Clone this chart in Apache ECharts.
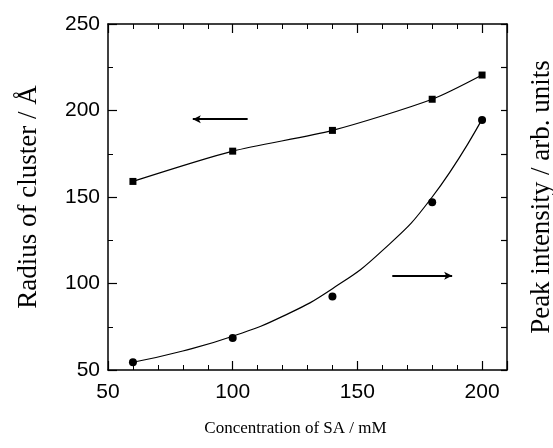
<!DOCTYPE html>
<html>
<head>
<meta charset="utf-8">
<script src="https://cdn.jsdelivr.net/npm/echarts@6/dist/echarts.min.js"></script>
<style>
  html, body { margin: 0; padding: 0; background: #fff; }
  #chart { width: 553px; height: 448px; }
</style>
</head>
<body>
<div id="chart"></div>
<script>
    'use strict';

    // concentration of SA (mM)
    var concentrations = [60, 100, 140, 180, 200];
    // radius of cluster (squares, left axis)
    var radius = [159, 176.5, 188.5, 206.5, 220.5];
    // peak intensity (circles, arb. units on the same scale)
    var intensity = [54.5, 68.5, 92.5, 147, 194.5];
    // fitted curve through the intensity points
    var fitX = [60, 80, 100, 120, 140, 160, 180, 200];
    var fitY = [54.5, 61, 69.5, 81, 97, 119, 150, 195];
    // the two arrows telling which axis a curve belongs to: [fromX, toX, y]
    var arrowLeft = [106, 84, 195];
    var arrowRight = [164, 188, 104.5];

    var xTicks = [50, 100, 150, 200];
    var yTicks = [50, 100, 150, 200, 250];

    function pairs(xs, ys) {
        return xs.map(function (x, i) { return [x, ys[i]]; });
    }

    function arrow(a) {
        return [{ coord: [a[0], a[2]] }, { coord: [a[1], a[2]] }];
    }

    var black = '#000';
    var tickFont = { color: black, fontFamily: 'Liberation Sans', fontSize: 21 };
    var titleFont = { color: black, fontFamily: 'Liberation Serif' };

    var chart = echarts.init(document.getElementById('chart'));

    chart.setOption({
        animation: false,
        grid: { left: 108, right: 46, top: 24, bottom: 78, outerBoundsMode: 'none', containLabel: false },
        xAxis: [{
            type: 'value',
            min: xTicks[0],
            max: 210,
            interval: 50,
            name: 'Concentration of SA / mM',
            nameLocation: 'middle',
            nameGap: 50,
            nameTextStyle: Object.assign({ fontSize: 17, padding: [0, 24, 0, 0] }, titleFont),
            axisLine: { lineStyle: { color: black, width: 1.5 } },
            axisTick: { inside: true, length: 9, lineStyle: { color: black, width: 1.2 } },
            minorTick: { show: true, splitNumber: 5, length: 5, lineStyle: { color: black, width: 1 } },
            axisLabel: Object.assign({ margin: 12, showMaxLabel: false }, tickFont),
            splitLine: { show: false }
        }, {
            type: 'value',
            position: 'top',
            min: xTicks[0],
            max: 210,
            interval: 50,
            axisLine: { lineStyle: { color: black, width: 1.5 } },
            axisTick: { inside: true, length: 9, lineStyle: { color: black, width: 1.2 } },
            minorTick: { show: true, splitNumber: 5, length: 5, lineStyle: { color: black, width: 1 } },
            axisLabel: { show: false },
            splitLine: { show: false }
        }],
        yAxis: [{
            type: 'value',
            min: yTicks[0],
            max: yTicks[yTicks.length - 1],
            interval: 50,
            name: 'Radius of cluster / Å',
            nameLocation: 'middle',
            nameGap: 66,
            nameRotate: 90,
            nameTextStyle: Object.assign({ fontSize: 27 }, titleFont),
            axisLine: { lineStyle: { color: black, width: 1.5 } },
            axisTick: { inside: true, length: 9, lineStyle: { color: black, width: 1.2 } },
            minorTick: { show: true, splitNumber: 2, length: 5, lineStyle: { color: black, width: 1 } },
            axisLabel: Object.assign({ margin: 8 }, tickFont),
            splitLine: { show: false }
        }, {
            type: 'value',
            position: 'right',
            min: yTicks[0],
            max: yTicks[yTicks.length - 1],
            interval: 25,
            name: 'Peak intensity / arb. units',
            nameLocation: 'middle',
            nameGap: 21,
            nameRotate: 90,
            nameTextStyle: Object.assign({ fontSize: 27 }, titleFont),
            axisLine: { lineStyle: { color: black, width: 1.5 } },
            axisTick: { inside: true, length: 6, lineStyle: { color: black, width: 1.2 } },
            axisLabel: { show: false },
            splitLine: { show: false }
        }],
        series: [{
            name: 'radius',
            type: 'line',
            smooth: 0.25,
            data: pairs(concentrations, radius),
            symbol: 'rect',
            symbolSize: 7,
            itemStyle: { color: black, opacity: 1 },
            lineStyle: { color: black, width: 1.2 },
            markLine: {
                silent: true,
                symbol: ['none', 'arrow'],
                symbolSize: [6, 8],
                label: { show: false },
                lineStyle: { color: black, width: 2, type: 'solid' },
                data: [arrow(arrowLeft), arrow(arrowRight)]
            }
        }, {
            name: 'fit',
            type: 'line',
            smooth: 0.5,
            showSymbol: false,
            data: pairs(fitX, fitY),
            lineStyle: { color: black, width: 1.2 }
        }, {
            name: 'intensity',
            type: 'scatter',
            data: pairs(concentrations, intensity),
            symbol: 'circle',
            symbolSize: 8,
            itemStyle: { color: black, opacity: 1 }
        }]
    });
</script>
</body>
</html>
